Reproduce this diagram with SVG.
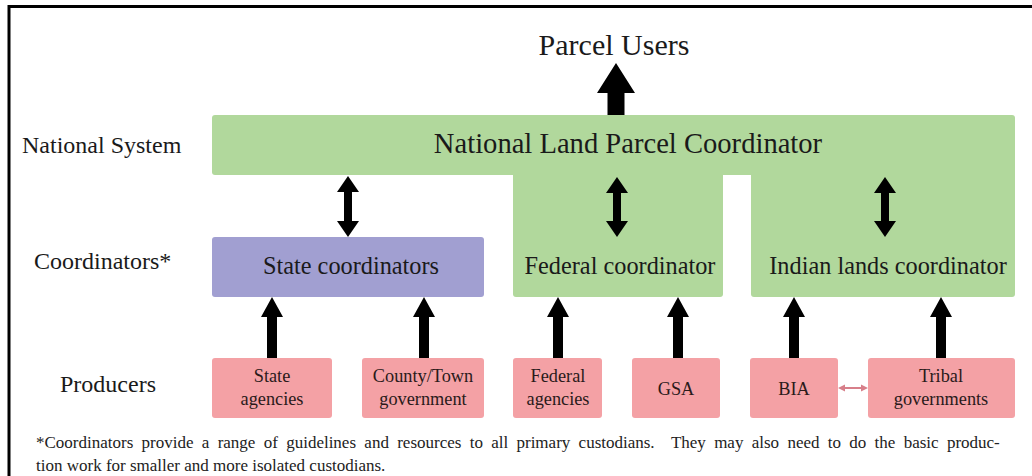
<svg xmlns="http://www.w3.org/2000/svg" width="1032" height="476" viewBox="0 0 1032 476">
<style>
  text { font-family: 'Liberation Serif', 'Times New Roman', serif; }
  .lbl { fill: #1a1a1a; }
  .side { font-size: 24px; }
  .big { font-size: 24.3px; text-anchor: middle; }
  .prod { font-size: 18.3px; text-anchor: middle; fill: #2a1a1a; }
  .note { font-size: 17px; fill: #222; }
  .green { fill: #b1d89c; }
  .purple { fill: #a19fd1; }
  .pink { fill: #f4a1a5; }
  .arrow { fill: #000; }
</style>
<rect x="0" y="0" width="1032" height="476" fill="#fff"/>
<path d="M9 476 V6.5 H1032" fill="none" stroke="#000" stroke-width="3"/>

<text class="lbl side" x="22" y="153">National System</text>
<text class="lbl side" x="34" y="269">Coordinators*</text>
<text class="lbl side" x="60" y="392">Producers</text>

<text id="parcel-users" class="lbl" x="614" y="55" font-size="30" text-anchor="middle">Parcel Users</text>

<g id="national">
  <rect class="green" x="212" y="115" width="803" height="60" rx="3"/>
  <text class="lbl" x="628" y="153" font-size="28.6" text-anchor="middle" fill="#1c261a">National Land Parcel Coordinator</text>
</g>
<g id="federal">
  <rect class="green" x="513" y="165" width="210" height="132" rx="3"/>
  <text class="lbl big" x="620" y="274">Federal coordinator</text>
</g>
<g id="indian">
  <rect class="green" x="751" y="165" width="264" height="132" rx="3"/>
  <text class="lbl big" x="888" y="274">Indian lands coordinator</text>
</g>
<g id="state">
  <rect class="purple" x="212" y="237" width="272" height="60" rx="3"/>
  <text class="lbl big" x="351" y="274" fill="#1c1c3a">State coordinators</text>
</g>

<g id="state-agencies">
  <rect class="pink" x="212" y="358" width="120" height="60" rx="3"/>
  <text class="lbl prod" x="272" y="382">State</text>
  <text class="lbl prod" x="272" y="405">agencies</text>
</g>
<g id="county">
  <rect class="pink" x="362" y="358" width="122" height="60" rx="3"/>
  <text class="lbl prod" x="423" y="382">County/Town</text>
  <text class="lbl prod" x="423" y="405">government</text>
</g>
<g id="federal-agencies">
  <rect class="pink" x="513" y="358" width="89" height="60" rx="3"/>
  <text class="lbl prod" x="558" y="382">Federal</text>
  <text class="lbl prod" x="558" y="405">agencies</text>
</g>
<g id="gsa">
  <rect class="pink" x="632" y="358" width="88" height="60" rx="3"/>
  <text class="lbl prod" x="676" y="395">GSA</text>
</g>
<g id="bia">
  <rect class="pink" x="750" y="358" width="88" height="60" rx="3"/>
  <text class="lbl prod" x="794" y="395">BIA</text>
</g>
<g id="tribal">
  <rect class="pink" x="868" y="358" width="147" height="60" rx="3"/>
  <text class="lbl prod" x="941" y="382">Tribal</text>
  <text class="lbl prod" x="941" y="405">governments</text>
</g>

<g id="connectors">
  <polygon class="arrow" points="607.5,115 607.5,93 597,93 616,63 635,93 624.5,93 624.5,115"/>
  <polygon class="arrow" points="348,176 359,192 352,192 352,221 359,221 348,237 337,221 344,221 344,192 337,192"/>
  <polygon class="arrow" points="617,177 628,193 621,193 621,221 628,221 617,237 606,221 613,221 613,193 606,193"/>
  <polygon class="arrow" points="885,177 896,193 889,193 889,221 896,221 885,237 874,221 881,221 881,193 874,193"/>
  <polygon class="arrow" points="267,358 267,317 261,317 272,297 283,317 277,317 277,358"/>
  <polygon class="arrow" points="419,358 419,317 413,317 424,297 435,317 429,317 429,358"/>
  <polygon class="arrow" points="553,358 553,317 547,317 558,297 569,317 563,317 563,358"/>
  <polygon class="arrow" points="673,358 673,317 667,317 678,297 689,317 683,317 683,358"/>
  <polygon class="arrow" points="789,358 789,317 783,317 794,297 805,317 799,317 799,358"/>
  <polygon class="arrow" points="936,358 936,317 930,317 941,297 952,317 946,317 946,358"/>
  <line x1="843" y1="388" x2="863" y2="388" stroke="#d77f8a" stroke-width="2"/>
  <polygon points="838,388 845,384.5 845,391.5" fill="#d77f8a"/>
  <polygon points="868,388 861,384.5 861,391.5" fill="#d77f8a"/>
</g>

<text class="lbl note" x="36" y="448" word-spacing="4.05" xml:space="preserve">*Coordinators provide a range of guidelines and resources to all primary custodians.  They may also need to do the basic produc-</text>
<text class="lbl note" x="36" y="471">tion work for smaller and more isolated custodians.</text>
</svg>
